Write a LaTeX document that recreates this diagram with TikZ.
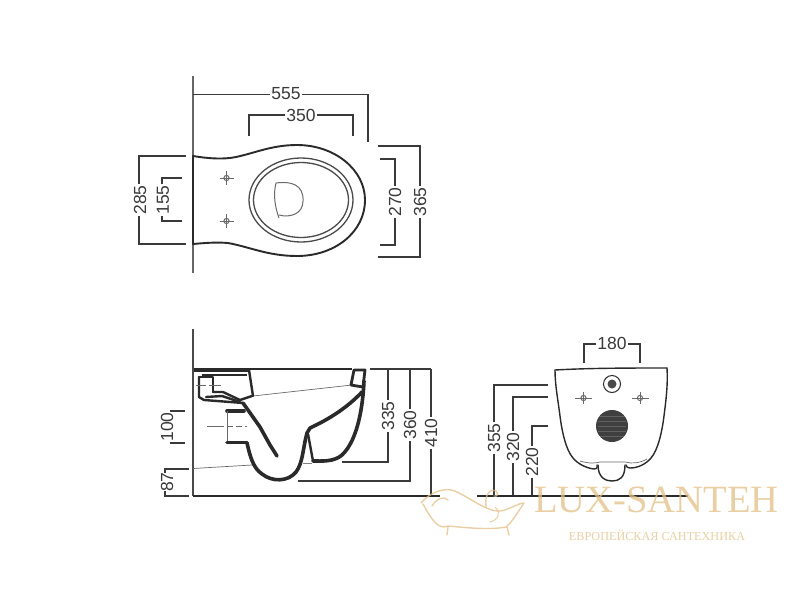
\documentclass[tikz,border=0pt]{standalone}
\usepackage{fontspec}
\setmainfont{Liberation Sans}
\newfontfamily\wmfont{Liberation Serif}
\definecolor{ink}{HTML}{2A2A2A}
\definecolor{dimc}{HTML}{3A3A3A}
\definecolor{wm}{HTML}{E3C088}
\tikzset{
  dimline/.style={draw=dimc,line width=1.1pt},
  dimtext/.style={font=\fontsize{17.5}{19}\selectfont,text=dimc,fill=white,inner sep=1pt},
  wall/.style={draw=ink!85,line width=1.3pt},
  floorline/.style={draw=ink,line width=1.6pt},
  outline/.style={draw=ink,line width=1.9pt,line cap=round,line join=round},
  frontline/.style={draw=ink,line width=1.4pt,line cap=round,line join=round},
  thinline/.style={draw=ink!70,line width=0.7pt},
  seatline/.style={draw=ink!85,line width=1.3pt},
  section/.style={draw=ink,line width=3.6pt,line cap=round,line join=round},
  sectionb/.style={draw=ink,line width=2.4pt,line cap=round,line join=round},
  wmline/.style={draw=wm,line width=1.4pt,opacity=0.75,line cap=round,line join=round},
  wmtext/.style={text=wm,opacity=0.75,inner sep=0pt},
}
\newcommand{\fixcross}[4]{%
  \draw[thinline,line width=1pt] (#1-#3,#2)--(#1+#3,#2) (#1,#2-#4)--(#1,#2+#4);
  \draw[thinline,line width=1pt] (#1,#2) circle (2.6);}
\begin{document}
\begin{tikzpicture}[x=1pt,y=-1pt]
\useasboundingbox (0,0) rectangle (800,600);
\fill[white] (0,0) rectangle (800,600);

% ---- top view ----
\draw[wall,draw=gray!80!black] (193,76)--(193,273);
\draw[outline] (193,156)
  .. controls (205,158) and (222,160) .. (236,157)
  .. controls (255,153) and (272,145) .. (297,145)
  .. controls (335,145) and (365,170) .. (365,200)
  .. controls (365,232) and (335,256) .. (297,256)
  .. controls (268,256) and (250,247) .. (228,243)
  .. controls (215,242) and (205,243) .. (193,244) -- cycle;
\draw[seatline] (301,200) ellipse (52 and 42);
\draw[seatline] (301,200) ellipse (47.5 and 37.5);
\draw[thinline,line width=1pt] (276,183) .. controls (290,181) and (304,184) .. (303,201)
  .. controls (303,214) and (290,218) .. (279,215);
\draw[thinline,line width=1pt] (276,183) .. controls (273,195) and (275,207) .. (279,218);
\fixcross{226.5}{178}{7}{7}
\fixcross{226.5}{221}{7}{7}

\draw[dimline] (193,94.5)--(368,94.5)--(368,142);
\node[dimtext] (d555) at (286,94) {555};
\draw[dimline] (249,136)--(249,115)--(353,115)--(353,136);
\node[dimtext] (d350) at (301,115) {350};
\draw[dimline] (186,156)--(139,156)--(139,244)--(186,244);
\node[dimtext,rotate=90] (d285) at (140,200) {285};
\draw[dimline] (182,178)--(162,178)--(162,221)--(182,221);
\node[dimtext,rotate=90] (d155) at (163,200) {155};
\draw[dimline] (380,159)--(395,159)--(395,245)--(380,245);
\node[dimtext,rotate=90] (d270) at (395,202) {270};
\draw[dimline] (378,146)--(420,146)--(420,257)--(378,257);
\node[dimtext,rotate=90] (d365) at (420,202) {365};

% ---- side view ----
\draw[dimline] (370,369)--(431,369);
\draw[dimline] (388,369)--(388,462)--(342,462);
\node[dimtext,rotate=90] (d335) at (388,416) {335};
\draw[dimline] (410,369)--(410,481)--(298,481);
\node[dimtext,rotate=90] (d360) at (410,425) {360};
\draw[dimline] (431,369)--(431,496);
\node[dimtext,rotate=90] (d410) at (431,433) {410};

\draw[dimline] (185,411)--(170,411);
\draw[dimline] (185,443)--(170,443);
\node[dimtext,rotate=90,fill=none] (d100) at (167,427) {100};
\draw[dimline] (189,469)--(165,469)--(165,473);
\draw[dimline] (189,496)--(165,496)--(165,491);
\node[dimtext,rotate=90,fill=none] (d87) at (167,482) {87};

\draw[wall] (193,329)--(193,496);
\draw[floorline] (193,496)--(440,496);
\draw[dimline,draw=ink,line width=1.4pt] (250,369)--(352,369);

\draw[thinline] (193,468.5)--(252,465);
\draw[thinline] (253,396)--(352,385);
\draw[thinline,gray] (303,463)--(312,463);

% tank and inlet
\fill[ink] (194,368) rectangle (250,372);
\fill[ink] (202,373.5) rectangle (247,375.5);
\draw[sectionb] (249,370)--(253,396);
\draw[sectionb] (199,377)--(213,377)--(213,392);
\draw[sectionb] (199,377)--(199,397)--(204,400)--(243,403);
\draw[sectionb] (213,392)--(223,392)--(240,400)--(252,396);
\draw[sectionb] (206,397)--(222,396)--(240,402);
\draw[thinline,line width=1pt] (196,385.5)--(206,385.5) (209,385.5)--(221,385.5);

% spigot and trap
\draw[section] (243,403)--(260,427)--(270,445)--(277,456);
\draw[section] (227,411)--(244,411);
\draw[thinline,line width=1pt] (227,411)--(227,442);
\draw[section] (227,442.5)--(247,442.5);
\draw[section] (247,443) .. controls (250,456) and (253,468) .. (262,474)
  .. controls (272,482) and (288,482) .. (296,472)
  .. controls (303,463) and (303,447) .. (307,433)--(310,428)
  .. controls (325,421) and (345,410) .. (362,392);
\draw[thinline,line width=1pt,dash pattern=on 17pt off 3pt on 6pt off 3pt on 6pt off 3pt] (207,426)--(247,426);
\draw[section] (364,381) .. controls (363,405) and (358,440) .. (342,455)
  .. controls (334,462) and (322,461) .. (313,461);
\draw[sectionb] (313,461)--(308,434);
\draw[section,line width=2.8pt] (351,385)--(354,370)--(365,370)--(363,387)--(351,385);

% ---- front view ----
\draw[frontline] (555,370) .. controls (590,368) and (630,368) .. (667,368);
\draw[frontline] (555,370) .. controls (555,385) and (558,400) .. (560,416)
  .. controls (562,432) and (566,450) .. (573,458)
  .. controls (578,464) and (586,468) .. (594,469)
  .. controls (597,469) and (598,467) .. (597,465);
\draw[frontline] (667,368) .. controls (668,385) and (666,400) .. (664,416)
  .. controls (662,432) and (658,450) .. (651,458)
  .. controls (646,464) and (638,468) .. (630,468)
  .. controls (628,468) and (626,467) .. (626,465);
\draw[thinline] (580,461) .. controls (590,464) and (596,463) .. (600,462) -- (625,462)
  .. controls (632,464) and (640,463) .. (647,459);
\draw[frontline] (598,465) .. controls (598,478) and (606,481) .. (612,481)
  .. controls (619,481) and (625,478) .. (625,465);
\draw[draw=ink,line width=1pt] (612,384) circle (8.5);
\fill[ink!85] (612,384) circle (4.5);
\fill[ink!90] (612,426) circle (16);
\foreach \yy in {416,421,426,431,436}{\draw[white,opacity=0.18,line width=.8pt] (598,\yy)--(626,\yy);}
\fixcross{583.5}{398}{8.5}{6}
\fixcross{640}{398}{8.5}{6}

\draw[dimline] (584,363)--(584,344)--(640,344)--(640,363);
\node[dimtext] (d180) at (612,343) {180};
\draw[dimline] (548,385)--(494,385)--(494,496);
\node[dimtext,rotate=90] (d355) at (494,438) {355};
\draw[dimline] (548,397)--(513,397)--(513,496);
\node[dimtext,rotate=90] (d320) at (513,447) {320};
\draw[dimline] (548,426)--(532,426)--(532,496);
\node[dimtext,rotate=90] (d220) at (532,462) {220};
\draw[floorline] (477,496)--(688,496);

% ---- watermark ----
\node[wmtext,anchor=west,font=\wmfont\fontsize{38.6}{40}\selectfont] (wmA) at (534,499.5) {LUX-SANTEH};
\node[wmtext,anchor=center,font=\wmfont\fontsize{12.2}{14}\selectfont] (wmB) at (657,535) {ЕВРОПЕЙСКАЯ САНТЕХНИКА};
% bathtub
\draw[wmline] (421,503) .. controls (430,492) and (445,487) .. (455,491)
  .. controls (470,498) and (485,510) .. (497,511)
  .. controls (505,512) and (514,505) .. (523,503);
\draw[wmline] (423,504) .. controls (432,520) and (438,530) .. (448,526)
  .. controls (470,528) and (490,530) .. (506,527)
  .. controls (512,522) and (518,512) .. (524,503);
\draw[wmline] (432,506) .. controls (437,498) and (444,496) .. (448,500);
\draw[wmline] (448,527)--(447,535) (507,527)--(509,535);
\draw[wmline] (486,507) .. controls (484,493) and (492,488) .. (496,491)
  .. controls (499,494) and (497,497) .. (494,496);
\draw[wmline,line width=1pt] (495,507) .. controls (502,513) and (498,520) .. (490,522);
\end{tikzpicture}
\end{document}
